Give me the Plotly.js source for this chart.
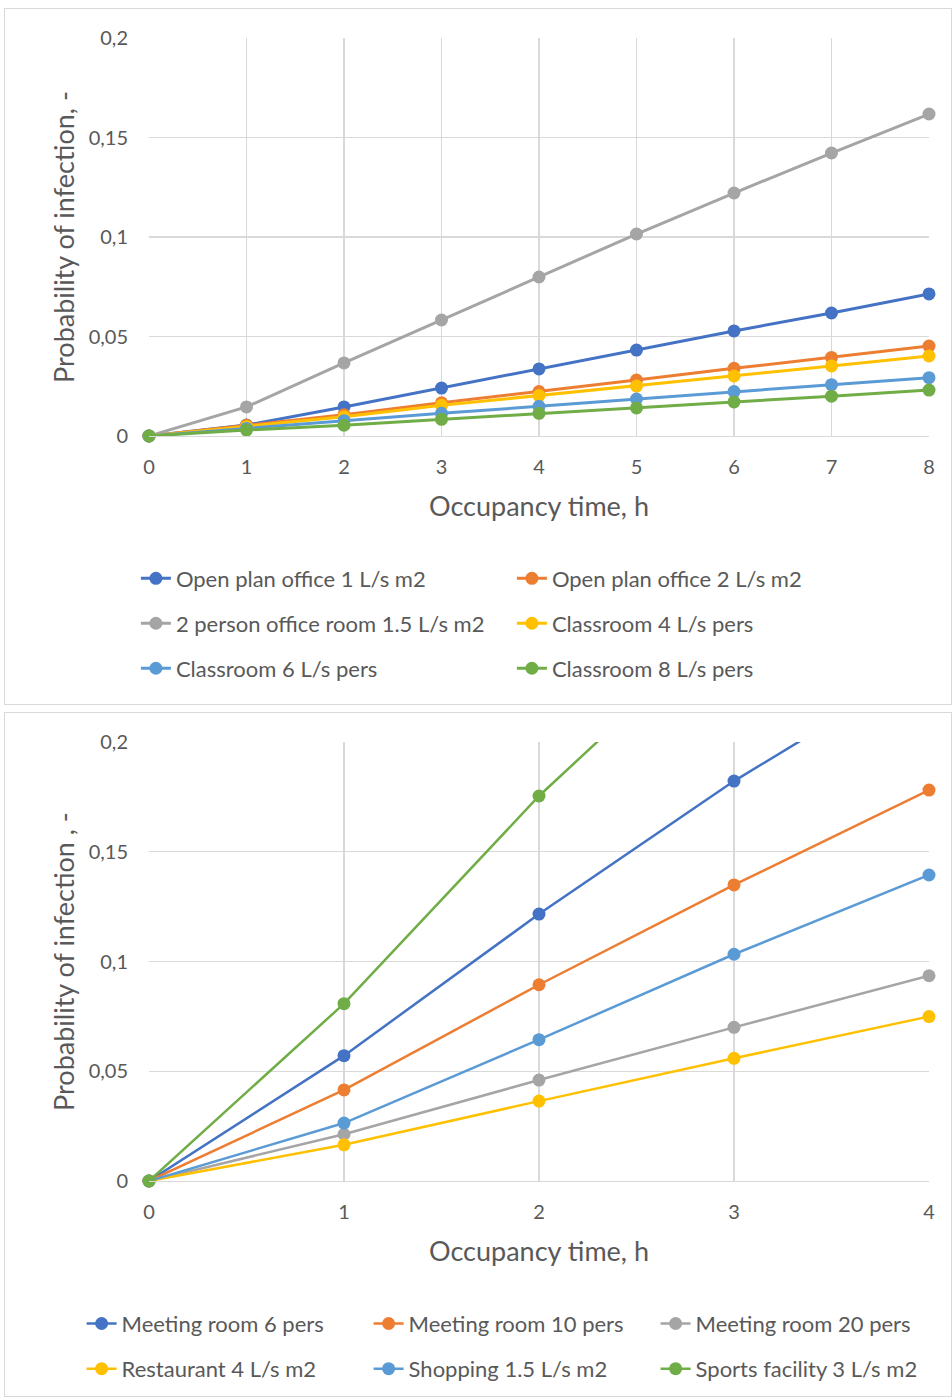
<!DOCTYPE html>
<html>
<head>
<meta charset="utf-8">
<script src="https://cdn.plot.ly/plotly-3.0.1.min.js"></script>
<style>
html,body{margin:0;padding:0;background:#fff;width:952px;height:1398px;overflow:hidden;}
.box{position:absolute;left:4px;width:946px;border:1px solid #d9d9d9;background:#fff;}
#c1{top:8px;height:695px;}
#c2{top:712px;height:683px;}
</style>
</head>
<body>
<div id="c1" class="box"></div>
<div id="c2" class="box"></div>
<script>
// ---- Data: top chart ----
const hoursTop = [0,1,2,3,4,5,6,7,8];
const namesTop = ["Open plan office 1 L/s m2","Open plan office 2 L/s m2","2 person office room 1.5 L/s m2","Classroom 4 L/s pers","Classroom 6 L/s pers","Classroom 8 L/s pers"];
const openPlan1 = [0,0.0055,0.0146,0.0241,0.0337,0.0432,0.0528,0.0618,0.0714];
const openPlan2 = [0,0.0054,0.0107,0.0167,0.0223,0.0281,0.0340,0.0395,0.0452];
const office2p  = [0,0.0146,0.0367,0.0583,0.0799,0.1015,0.1221,0.1422,0.1618];
const class4    = [0,0.0048,0.0097,0.0154,0.0203,0.0251,0.0302,0.0352,0.0402];
const class6    = [0,0.0038,0.0077,0.0114,0.0149,0.0186,0.0223,0.0258,0.0293];
const class8    = [0,0.0030,0.0054,0.0084,0.0114,0.0141,0.0171,0.0200,0.0231];
// ---- Data: bottom chart ----
const hoursBot = [0,1,2,3,4];
const namesBot = ["Meeting room 6 pers","Meeting room 10 pers","Meeting room 20 pers","Restaurant 4 L/s m2","Shopping 1.5 L/s m2","Sports facility 3 L/s m2"];
const meeting6   = [0,0.0571,0.1216,0.1822,0.236];
const meeting10  = [0,0.0415,0.0894,0.1349,0.1781];
const meeting20  = [0,0.0213,0.0460,0.0700,0.0935];
const restaurant = [0,0.0165,0.0364,0.0559,0.0749];
const shopping   = [0,0.0264,0.0644,0.1033,0.1394];
const sports     = [0,0.0808,0.1754,0.258,0.335];

const colors = ["#4472C4","#ED7D31","#A5A5A5","#FFC000","#5B9BD5","#70AD47"];
const FONT = "Lato, 'Open Sans', sans-serif";
const tickColor = "#595959";

function makeTraces(x, series, names, lw, legendIds){
  return series.map((s,i)=>({
    type:"scatter", mode:"lines+markers", x:x, y:s, name:names[i],
    line:{color:colors[i], width:lw},
    marker:{color:colors[i], size:13},
    cliponaxis:false,
    legend: legendIds[i]
  }));
}

function axisCommon(){
  return {
    showgrid:true, gridcolor:"#d9d9d9", gridwidth:1.3, zeroline:false,
    showline:true, linecolor:"#d9d9d9", linewidth:1.3,
    ticks:"", tickfont:{family:FONT,size:20,color:tickColor},
    fixedrange:true
  };
}

function legendCfg(x,y,ew){
  return {orientation:"h", x:x, y:y, xref:"paper", yref:"paper", xanchor:"left", yanchor:"middle",
    entrywidth:ew, entrywidthmode:"pixels", font:{family:FONT,size:22,color:tickColor},
    bgcolor:"rgba(0,0,0,0)", itemclick:false, itemdoubleclick:false, traceorder:"normal"};
}

const titleFont = {family:FONT,size:27,color:tickColor};

// Top chart
const topTraces = makeTraces(hoursTop,[openPlan1,openPlan2,office2p,class4,class6,class8],namesTop,3,
  ["legend","legend","legend2","legend2","legend3","legend3"]);
const topLayout = {
  width:946, height:695, separators:", ",
  margin:{l:144,r:22,t:29,b:268,autoexpand:false},
  paper_bgcolor:"#fff", plot_bgcolor:"#fff",
  font:{family:FONT,color:tickColor},
  showlegend:true,
  xaxis:Object.assign(axisCommon(),{range:[0,8], dtick:1, ticklabelstandoff:13,
    title:{text:"Occupancy time, h", font:titleFont, standoff:19}}),
  yaxis:Object.assign(axisCommon(),{range:[0,0.2], dtick:0.05, ticklabelstandoff:20, showline:false,
    title:{text:"Probability of infection, -", font:titleFont, standoff:6}}),
  legend:legendCfg(-0.0168,-0.358,331),
  legend2:legendCfg(-0.0168,-0.471,331),
  legend3:legendCfg(-0.0168,-0.584,331)
};
Plotly.newPlot("c1", topTraces, topLayout, {staticPlot:true, displayModeBar:false});

// Bottom chart
const botTraces = makeTraces(hoursBot,[meeting6,meeting10,meeting20,restaurant,shopping,sports],namesBot,2.5,
  ["legend","legend","legend","legend2","legend2","legend2"]);
const botLayout = {
  width:946, height:683, separators:", ",
  margin:{l:144,r:22,t:29,b:215,autoexpand:false},
  paper_bgcolor:"#fff", plot_bgcolor:"#fff",
  font:{family:FONT,color:tickColor},
  showlegend:true,
  xaxis:Object.assign(axisCommon(),{range:[0,4], dtick:1, ticklabelstandoff:13,
    title:{text:"Occupancy time, h", font:titleFont, standoff:19}}),
  yaxis:Object.assign(axisCommon(),{range:[0,0.2], dtick:0.05, ticklabelstandoff:20, showline:false,
    title:{text:"Probability of infection , -", font:titleFont, standoff:6}}),
  legend:legendCfg(-0.0864,-0.325,242),
  legend2:legendCfg(-0.0864,-0.428,242)
};
Plotly.newPlot("c2", botTraces, botLayout, {staticPlot:true, displayModeBar:false});
</script>
</body>
</html>
